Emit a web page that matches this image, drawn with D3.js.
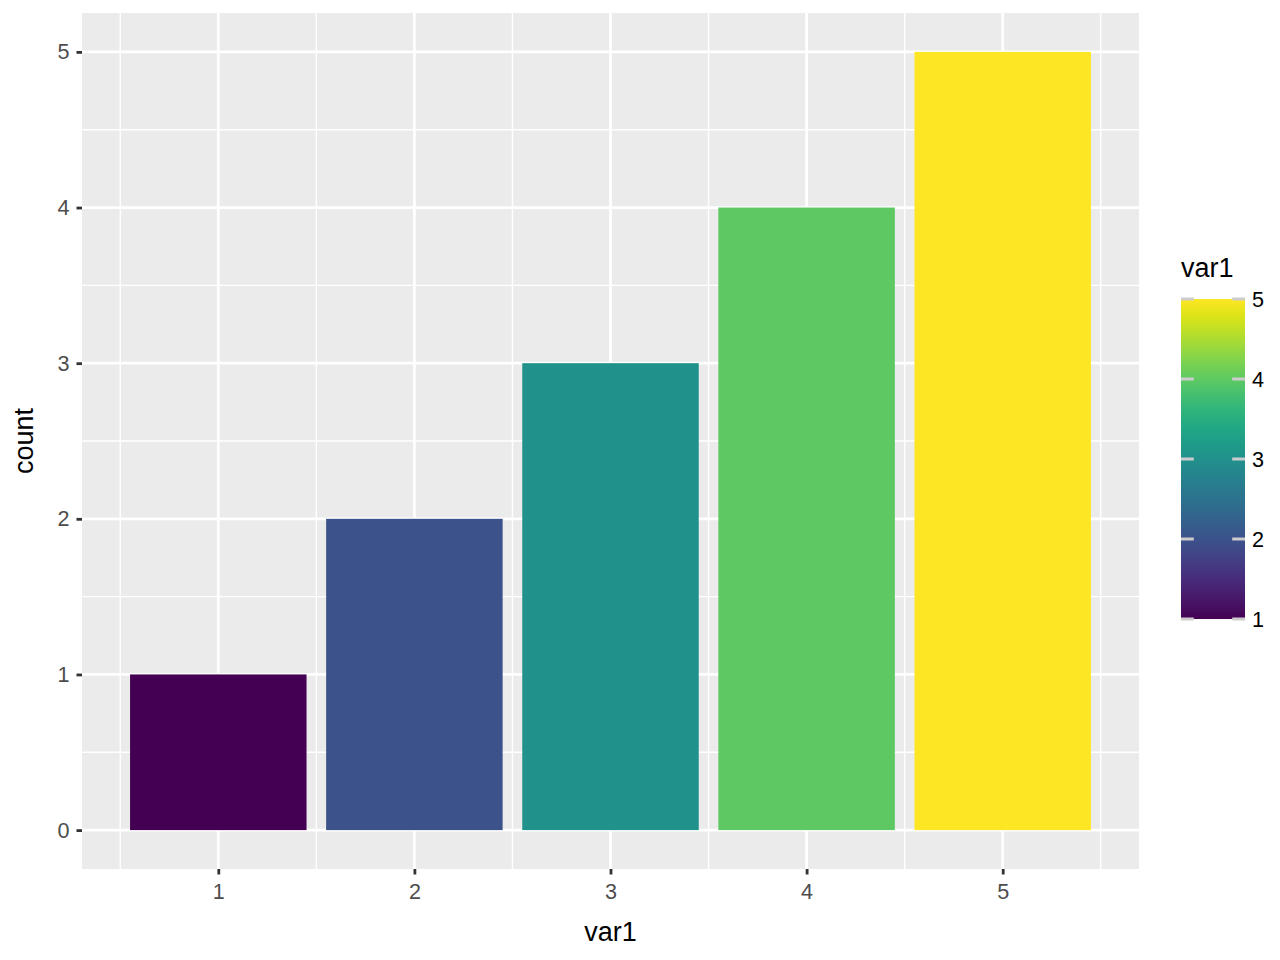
<!DOCTYPE html>
<html><head><meta charset="utf-8">
<script src="https://cdn.jsdelivr.net/npm/d3@7"></script>
<style>body{margin:0;background:#fff}svg{display:block}text{font-family:"Liberation Sans",Arial,Helvetica,sans-serif}</style>
</head><body><svg id="c" width="1280" height="960"></svg>
<script>
const categories = [1, 2, 3, 4, 5];
const counts = [1, 2, 3, 4, 5];
const yTicks = [0, 1, 2, 3, 4, 5];
const legendTicks = [1, 2, 3, 4, 5];

const svg = d3.select("#c");
const P = {l: 82, r: 1139, t: 13, b: 869};
const x = d3.scaleLinear().domain([0.305, 5.695]).range([P.l, P.r]);
const y = d3.scaleLinear().domain([-0.25, 5.25]).range([P.b, P.t]);
const color = d3.scaleSequential(d3.interpolateViridis).domain([1, 5]);
const TICK_FS = 21.6, TITLE_FS = 27;

svg.append("rect").attr("x", P.l).attr("y", P.t).attr("width", P.r - P.l).attr("height", P.b - P.t).attr("fill", "#EBEBEB");
const g = svg.append("g");
const xMinor = [0.5, 1.5, 2.5, 3.5, 4.5, 5.5];
const yMinor = [0.5, 1.5, 2.5, 3.5, 4.5];
g.selectAll(".xm").data(xMinor).join("line").attr("x1", d => x(d)).attr("x2", d => x(d)).attr("y1", P.t).attr("y2", P.b).attr("stroke", "#fff").attr("stroke-width", 1.4);
g.selectAll(".ym").data(yMinor).join("line").attr("y1", d => y(d)).attr("y2", d => y(d)).attr("x1", P.l).attr("x2", P.r).attr("stroke", "#fff").attr("stroke-width", 1.4);
g.selectAll(".xM").data(categories).join("line").attr("x1", d => x(d)).attr("x2", d => x(d)).attr("y1", P.t).attr("y2", P.b).attr("stroke", "#fff").attr("stroke-width", 2.8);
g.selectAll(".yM").data(yTicks).join("line").attr("y1", d => y(d)).attr("y2", d => y(d)).attr("x1", P.l).attr("x2", P.r).attr("stroke", "#fff").attr("stroke-width", 2.8);

svg.selectAll(".bar").data(categories).join("rect")
  .attr("x", (d) => x(d - 0.45)).attr("width", x(1.45) - x(0.55))
  .attr("y", (d, i) => y(counts[i])).attr("height", (d, i) => y(0) - y(counts[i]))
  .attr("fill", d => color(d));

const xAxis = svg.append("g").attr("transform", `translate(0,${P.b})`)
  .call(d3.axisBottom(x).tickValues(categories).tickSize(5.5).tickPadding(7).tickFormat(d3.format("d")));
const yAxis = svg.append("g").attr("transform", `translate(${P.l},0)`)
  .call(d3.axisLeft(y).tickValues(yTicks).tickSize(5.5).tickPadding(7).tickFormat(d3.format("d")));
[xAxis, yAxis].forEach(a => {
  a.attr("font-size", null).attr("font-family", null);
  a.select(".domain").remove();
  a.selectAll(".tick line").attr("stroke", "#333333").attr("stroke-width", 2.8);
  a.selectAll(".tick text").attr("fill", "#4D4D4D").style("font-size", TICK_FS + "px");
});
xAxis.selectAll(".tick text").attr("dy", null).attr("y", 30);

svg.append("text").attr("x", (P.l + P.r) / 2).attr("y", 941).attr("text-anchor", "middle").style("font-size", TITLE_FS + "px").attr("fill", "#000").text("var1");
svg.append("text").attr("transform", `translate(33,${(P.t + P.b) / 2}) rotate(-90)`).attr("text-anchor", "middle").style("font-size", TITLE_FS + "px").attr("fill", "#000").text("count");

const L = {x: 1181, w: 64, t: 299, b: 619};
const ly = d3.scaleLinear().domain([1, 5]).range([L.b, L.t]);
const defs = svg.append("defs");
const grad = defs.append("linearGradient").attr("id", "vg").attr("x1", 0).attr("y1", 1).attr("x2", 0).attr("y2", 0);
d3.range(0, 1.0001, 0.05).forEach(t => grad.append("stop").attr("offset", t).attr("stop-color", d3.interpolateViridis(t)));
svg.append("rect").attr("x", L.x).attr("y", L.t).attr("width", L.w).attr("height", L.b - L.t).attr("fill", "url(#vg)");
const lt = svg.append("g");
lt.selectAll(".lt1").data(legendTicks).join("line").attr("x1", L.x).attr("x2", L.x + 12.8).attr("y1", d => ly(d)).attr("y2", d => ly(d)).attr("stroke", "#CCCCCC").attr("stroke-width", 3);
lt.selectAll(".lt2").data(legendTicks).join("line").attr("x1", L.x + L.w - 12.8).attr("x2", L.x + L.w).attr("y1", d => ly(d)).attr("y2", d => ly(d)).attr("stroke", "#CCCCCC").attr("stroke-width", 3);
svg.selectAll(".ll").data(legendTicks).join("text").attr("x", 1252).attr("y", d => ly(d)).attr("dy", "0.35em").style("font-size", TICK_FS + "px").attr("fill", "#000").text(d => d);
svg.append("text").attr("x", 1181).attr("y", 277).style("font-size", TITLE_FS + "px").attr("fill", "#000").text("var1");
</script></body></html>
